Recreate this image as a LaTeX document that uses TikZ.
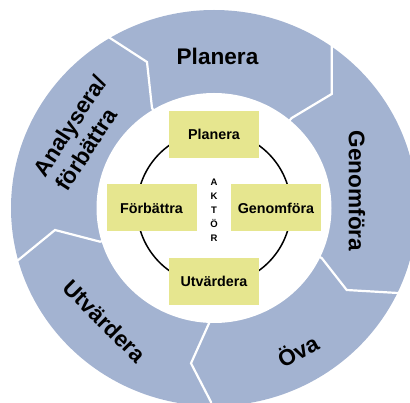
\documentclass[tikz,border=0pt]{standalone}
\usepackage{fontspec}
\setmainfont{Liberation Sans}
\usetikzlibrary{calc}
\definecolor{ringblue}{RGB}{163,179,209}
\definecolor{boxyellow}{RGB}{230,230,143}
\begin{document}
\begin{tikzpicture}[x=1pt,y=-1pt,
  outertext/.style={font=\fontsize{22.6}{26.5}\selectfont\bfseries, inner sep=0pt},
  box/.style={fill=boxyellow, minimum width=90pt, minimum height=47pt, inner sep=0pt, font=\fontsize{14.3}{16}\selectfont\bfseries},
  sep/.style={white, line width=2.2pt, line join=miter},
  ring/.style={black, line width=1.5pt}]
\useasboundingbox (0,0) rectangle (410,403);
\clip (0,0) rectangle (410,403);
\coordinate (C) at (214,208);
% ring
\fill[ringblue] (C) ellipse [x radius=203pt, y radius=198pt];
\fill[white] (C) ellipse [x radius=117.5pt, y radius=115pt];
% boundaries between segments
\coordinate (b1o) at (110,38);   \coordinate (b1k) at (147,62);   \coordinate (b1i) at (152,108);
\coordinate (b2o) at (331.7,46.7); \coordinate (b2k) at (331.7,94); \coordinate (b2i) at (291.7,118);
\coordinate (b3o) at (398,293);  \coordinate (b3k) at (346.7,290); \coordinate (b3i) at (321.7,258);
\coordinate (b4o) at (211,402);  \coordinate (b4k) at (191,363.3); \coordinate (b4i) at (209,323.3);
\coordinate (b5o) at (18.3,260); \coordinate (b5k) at (55,230);    \coordinate (b5i) at (100,241.7);
\foreach \b in {1,...,5}{
  \draw[sep] ($(C)!1.08!(b\b o)$) -- (b\b o) -- (b\b k) -- (b\b i) -- ($(C)!0.9!(b\b i)$);
}
% outer labels
\node[outertext] (tp) at (217.5,56) {Planera};
\node[outertext, rotate=-90] (tg) at (357,191) {Genomföra};
\node[outertext, rotate=28] (to) at (297.5,350) {Öva};
\node[outertext, rotate=-45] (tu) at (105,321) {Utvärdera};
\node[outertext, rotate=57, align=left] (ta) at (81,133) {Analysera/\\förbättra};
% inner cycle
\draw[ring] (C) circle [radius=77pt];
\node[box] (p) at (214,134.5) {Planera};
\node[box] (f) at (151.5,208) {Förbättra};
\node[box] (g) at (276,208) {Genomföra};
\node[box] (u) at (214,281.5) {Utvärdera};
\node[font=\fontsize{9.5}{14}\selectfont\bfseries, align=center, inner sep=0pt] (ak) at (214,210) {A\\K\\T\\Ö\\R};
\end{tikzpicture}
\end{document}
